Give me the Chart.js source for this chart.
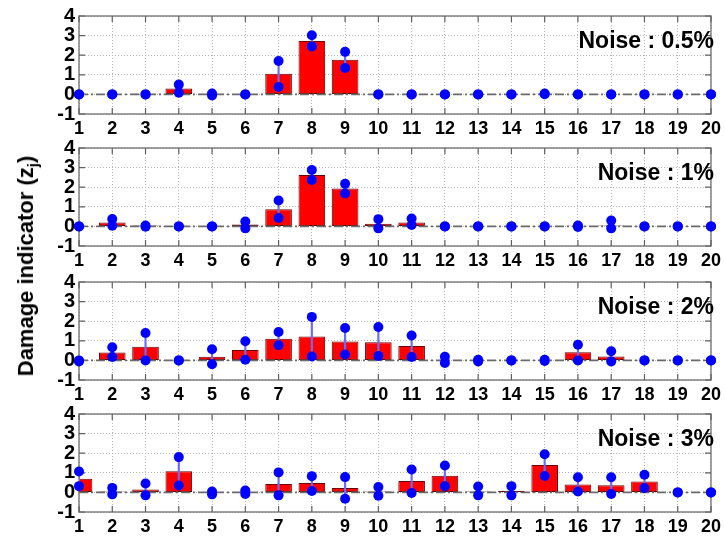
<!DOCTYPE html>
<html><head><meta charset="utf-8">
<script src="https://cdn.jsdelivr.net/npm/chart.js@4.4.1/dist/chart.umd.min.js"></script>
<style>
html,body{margin:0;padding:0;background:#fff;width:725px;height:540px;overflow:hidden;position:relative;font-family:"Liberation Sans",Arial,sans-serif;}
.panel{position:absolute;left:0;width:725px;height:134px;}
#ylab{position:absolute;left:26px;top:266px;transform:translate(-50%,-50%) rotate(-90deg);white-space:nowrap;font-weight:bold;font-size:22px;color:#000;line-height:1;}
#ylab sub{font-size:0.68em;vertical-align:-0.35em;line-height:0;}
</style></head><body>
<div class="panel" style="top:0"><canvas id="c0" width="725" height="134"></canvas></div>
<div class="panel" style="top:132px"><canvas id="c1" width="725" height="134"></canvas></div>
<div class="panel" style="top:266px"><canvas id="c2" width="725" height="134"></canvas></div>
<div class="panel" style="top:398px"><canvas id="c3" width="725" height="134"></canvas></div>
<div id="ylab">Damage indicator (z<sub>j</sub>)</div>
<script>
const categories = [1,2,3,4,5,6,7,8,9,10,11,12,13,14,15,16,17,18,19,20];
const xTickLabels = categories.map(String);
const yTickLabels = ['-1','0','1','2','3','4'];
const noiseLabels = ['Noise : 0.5%','Noise : 1%','Noise : 2%','Noise : 3%'];

const values05 = [0,0,0.03,0.3,0.03,0,1.05,2.72,1.77,0,0,0,0,0,0.03,0,0,0,0,0];
const upper05  = [0,0,0,0.5,0.05,0,1.7,3.02,2.17,0,0,0,0,0,0.05,0,0,0,0,0];
const lower05  = [0,0,0,0.08,-0.05,0,0.38,2.45,1.35,0,0,0,0,0,0.01,0,0,0,0,0];

const values1 = [0,0.2,0.05,0,0,0.1,0.88,2.62,1.93,0.13,0.2,0,0,0,0,0.03,0.05,0,0,0];
const upper1  = [0,0.38,0.05,0,0,0.25,1.32,2.88,2.17,0.37,0.4,0,0,0,0,0.05,0.3,0,0,0];
const lower1  = [0,0.03,-0.02,0,0,-0.1,0.43,2.37,1.68,-0.1,0.07,0,0,0,0,-0.03,-0.1,0,0,0];

const values2 = [0,0.4,0.7,0,0.18,0.53,1.1,1.22,0.97,0.93,0.73,0.02,0,0,0,0.42,0.2,0,0,0];
const upper2  = [0,0.67,1.4,0,0.57,0.98,1.45,2.22,1.65,1.7,1.27,0.18,0.03,0,0.03,0.8,0.47,0,0,0];
const lower2  = [-0.05,0.17,0,0,-0.2,0.03,0.77,0.2,0.3,0.23,0.17,-0.13,-0.05,0,-0.03,0,-0.05,0,0,0];

const values3 = [0.7,0.05,0.15,1.08,0.02,0.02,0.43,0.48,0.23,0.05,0.58,0.85,0.05,0.08,1.4,0.4,0.37,0.55,0,0];
const upper3  = [1.07,0.23,0.45,1.8,0.05,0.1,1.02,0.83,0.78,0.28,1.17,1.37,0.3,0.32,1.95,0.77,0.77,0.9,0,0];
const lower3  = [0.32,-0.1,-0.15,0.35,-0.1,-0.08,-0.15,0.07,-0.32,-0.17,-0.03,0.32,-0.15,-0.15,0.84,0.05,-0.08,0.22,0,0];

const panels = [
  {values: values05, upper: upper05, lower: lower05, label: noiseLabels[0]},
  {values: values1,  upper: upper1,  lower: lower1,  label: noiseLabels[1]},
  {values: values2,  upper: upper2,  lower: lower2,  label: noiseLabels[2]},
  {values: values3,  upper: upper3,  lower: lower3,  label: noiseLabels[3]}
];

const FONT = '"Liberation Sans", Arial, sans-serif';
const FRAME = '#808080';

const framePlugin = {
  id: 'frame',
  beforeDatasetsDraw(chart) {
    const {ctx, chartArea: a, scales} = chart;
    ctx.save();
    ctx.strokeStyle = FRAME;
    ctx.lineWidth = 1.5;
    ctx.strokeRect(a.left, a.top, a.right - a.left, a.bottom - a.top);
    ctx.lineWidth = 1.2;
    ctx.strokeStyle = '#606060';
    ctx.beginPath();
    scales.x.ticks.forEach(t => {
      const px = scales.x.getPixelForValue(t.value);
      ctx.moveTo(px, a.top); ctx.lineTo(px, a.top + 6);
      ctx.moveTo(px, a.bottom); ctx.lineTo(px, a.bottom - 6);
    });
    scales.y.ticks.forEach(t => {
      const py = scales.y.getPixelForValue(t.value);
      ctx.moveTo(a.left, py); ctx.lineTo(a.left + 6, py);
      ctx.moveTo(a.right, py); ctx.lineTo(a.right - 6, py);
    });
    ctx.stroke();
    ctx.restore();
  },
  afterDraw(chart) {
    const {ctx, chartArea: a} = chart;
    ctx.save();
    ctx.font = 'bold 23px ' + FONT;
    ctx.fillStyle = '#000';
    ctx.textAlign = 'right';
    ctx.textBaseline = 'alphabetic';
    ctx.fillText(chart.options.plugins.frame.text, a.right + 3, a.top + 32);
    ctx.restore();
  }
};

panels.forEach((p, k) => {
  const barData = categories.map((c, i) => ({x: c, y: p.values[i]}));
  const errData = categories.map((c, i) => ({x: c, y: [p.lower[i], p.upper[i]]}));
  const upData = categories.map((c, i) => ({x: c, y: p.upper[i]}));
  const loData = categories.map((c, i) => ({x: c, y: p.lower[i]}));
  const zeroData = categories.map(c => ({x: c, y: 0}));
  new Chart(document.getElementById('c' + k), {
    type: 'bar',
    data: {
      datasets: [
        {type: 'bar', data: barData, backgroundColor: '#ff0000', borderColor: '#6a0000', borderWidth: 1,
         borderSkipped: false, categoryPercentage: 0.8, barPercentage: 1.0, grouped: false, order: 5},
        {type: 'line', data: zeroData, borderColor: '#6a6a6a', borderWidth: 1.6, borderDash: [9,3,2,3],
         pointRadius: 0, fill: false, order: 4},
        {type: 'bar', data: errData, backgroundColor: '#6a6aff', borderWidth: 0, barThickness: 1.5,
         grouped: false, order: 3},
        {type: 'scatter', data: upData, pointRadius: 5, pointBackgroundColor: '#0000ff', pointBorderWidth: 0,
         borderColor: '#0000ff', showLine: false, clip: false, order: 1},
        {type: 'scatter', data: loData, pointRadius: 5, pointBackgroundColor: '#0000ff', pointBorderWidth: 0,
         borderColor: '#0000ff', showLine: false, clip: false, order: 1}
      ]
    },
    options: {
      responsive: false,
      devicePixelRatio: 1,
      animation: false,
      events: [],
      layout: {padding: {top: 14, right: 13, left: 0, bottom: 0}},
      plugins: {legend: {display: false}, tooltip: {enabled: false}, frame: {text: p.label}},
      scales: {
        x: {
          type: 'linear', min: 1, max: 20, offset: false,
          grid: {offset: false, color: '#b4b4b4', lineWidth: 1, drawTicks: false},
          border: {display: false, dash: [1, 2]},
          ticks: {stepSize: 1, autoSkip: false, maxRotation: 0, padding: 4, color: '#000',
                  font: {family: FONT, weight: 'bold', size: 18},
                  callback: (v, i) => xTickLabels[i]},
          afterFit: s => { s.height = 20; }
        },
        y: {
          type: 'linear', min: -1, max: 4,
          grid: {color: '#b4b4b4', lineWidth: 1, drawTicks: false},
          border: {display: false, dash: [1, 2]},
          ticks: {stepSize: 1, autoSkip: false, padding: 4, color: '#000',
                  font: {family: FONT, weight: 'bold', size: 20},
                  callback: (v, i) => yTickLabels[i]},
          afterFit: s => { s.width = 79; }
        }
      }
    },
    plugins: [framePlugin]
  });
});
</script>
</body></html>
